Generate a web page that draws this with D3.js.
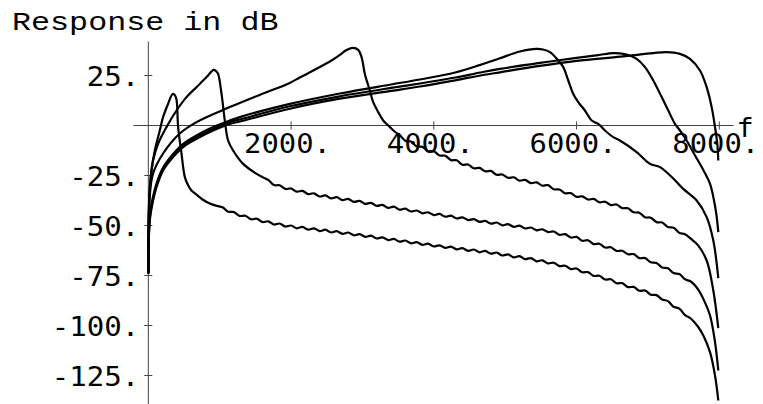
<!DOCTYPE html>
<html>
<head>
<meta charset="utf-8">
<script src="https://cdn.jsdelivr.net/npm/d3@7"></script>
<style>
  body { margin: 0; background: #fff; }
  svg { display: block; }
</style>
</head>
<body>
<svg id="chart" width="763" height="404"></svg>
<script>
// Axis ticks and labels
const xTicks = [2000, 4000, 6000, 8000];
const xTickLabels = ["2000.", "4000.", "6000.", "8000."];
const yTicks = [25, -25, -50, -75, -100, -125];
const yTickLabels = ["25.", "-25.", "-50.", "-75.", "-100.", "-125."];
const xAxisExtent = [-210, 8200];
const yAxisExtent = [-140, 42];
const xAxisName = "f";
const title = "Response in dB";

// Filter responses: [frequency, dB]
const curveA = [
  [1,-72],[11,-39],[45,-22.5],[91,-12.5],[161,-2.5],[207,4.2],[277,10.8],[325,15],[348,15.8],[372,15.2],[395,13],[418,-0.8],
  [465,-14],[512,-25.8],[560,-30],[605,-32.5],[675,-34.6],[760,-37],[862,-39],[960,-40.2],
  [1040,-40.9],[1120,-43.1],[1200,-43.3],[1280,-45.2],[1360,-45.1],[1440,-46.9],[1520,-46.6],[1600,-48.3],[1680,-47.9],[1760,-49.5],
  [1840,-49.0],[1920,-50.5],[2000,-50.0],[2080,-51.4],[2160,-50.7],[2240,-52.1],[2320,-51.4],[2400,-52.8],[2480,-52.1],[2560,-53.5],
  [2640,-52.8],[2720,-54.2],[2800,-53.5],[2880,-54.9],[2960,-54.3],[3040,-55.7],[3120,-55.1],[3200,-56.5],[3280,-55.9],[3360,-57.3],
  [3440,-56.7],[3520,-58.1],[3600,-57.5],[3680,-58.9],[3760,-58.3],[3840,-59.7],[3920,-59.1],[4000,-60.5],[4080,-59.9],[4160,-61.2],
  [4240,-60.6],[4320,-61.9],[4400,-61.3],[4480,-62.7],[4560,-62.0],[4640,-63.4],[4720,-62.7],[4800,-64.1],[4880,-63.5],[4960,-65.0],
  [5040,-64.4],[5120,-65.9],[5200,-65.3],[5280,-66.8],[5360,-66.3],[5440,-67.9],[5520,-67.4],[5600,-68.9],[5680,-68.6],[5760,-70.3],
  [5840,-70.1],[5920,-71.8],[6000,-71.5],[6080,-73.4],[6160,-73.3],[6240,-75.2],[6320,-75.1],[6400,-77.0],[6480,-76.9],[6560,-78.9],
  [6640,-78.8],[6720,-80.8],[6800,-80.7],[6880,-82.6],[6960,-82.5],[7040,-84.6],[7120,-84.8],[7200,-87.0],[7280,-87.8],[7360,-90.6],
  [7440,-91.6],[7520,-94.8],[7600,-96.5],[7700,-100.5],[7776,-105],[7870,-113.3],[7940,-125],[7986,-137.5]
];
const curveB = [
  [1,-73],[21,-30.8],[67,-17.5],[137,-9.2],[255,-0.8],[395,7.5],[535,14.2],[676,19.2],[816,24.2],[880,26.8],[915,27.8],[950,27.2],
  [978,25.8],[1026,15.8],[1072,2.5],[1118,-7.5],[1188,-12.5],[1329,-19.2],[1500,-23.8],[1600,-25.8],
  [1680,-27.2],[1760,-29.8],[1840,-29.9],[1920,-31.7],[2000,-31.5],[2080,-33.1],[2160,-32.7],[2240,-34.3],[2320,-33.9],[2400,-35.5],
  [2480,-34.9],[2560,-36.4],[2640,-35.8],[2720,-37.3],[2800,-36.7],[2880,-38.2],[2960,-37.7],[3040,-39.2],[3120,-38.7],[3200,-40.2],
  [3280,-39.7],[3360,-41.2],[3440,-40.6],[3520,-42.1],[3600,-41.6],[3680,-43.0],[3760,-42.5],[3840,-43.9],[3920,-43.4],[4000,-44.8],
  [4080,-44.2],[4160,-45.6],[4240,-45.1],[4320,-46.5],[4400,-45.9],[4480,-47.3],[4560,-46.8],[4640,-48.2],[4720,-47.7],[4800,-49.1],
  [4880,-48.5],[4960,-49.9],[5040,-49.3],[5120,-50.7],[5200,-50.1],[5280,-51.5],[5360,-51.0],[5440,-52.4],[5520,-51.9],[5600,-53.3],
  [5680,-53.0],[5760,-54.7],[5840,-54.3],[5920,-56.0],[6000,-55.7],[6080,-57.6],[6160,-57.4],[6240,-59.3],[6320,-59.1],[6400,-61.0],
  [6480,-60.9],[6560,-62.7],[6640,-62.6],[6720,-64.4],[6800,-64.3],[6880,-66.3],[6960,-66.3],[7040,-68.4],[7120,-68.7],[7200,-71.0],
  [7280,-71.4],[7360,-73.8],[7440,-74.3],[7520,-76.9],[7600,-78],[7700,-81.8],[7776,-86.7],[7870,-95],[7940,-108.3],[7986,-122.5]
];
const curveC = [
  [1,-74],[21,-35],[67,-24],[207,-14],[441,-4],[676,1.7],[1142,9.2],[1560,15.3],[1983,21.3],[2123,24],[2544,32],[2684,35.3],
  [2778,37.7],[2870,38.8],[2940,37.8],[2988,34.2],[3034,25.8],[3104,17.5],[3151,11.7],[3221,6.7],[3291,2.5],[3385,-0.8],[3450,-3],
  [3520,-4.7],[3600,-7.6],[3680,-8.0],[3760,-10.5],[3840,-10.7],[3920,-12.8],[4000,-12.9],[4080,-15.0],[4160,-15.1],[4240,-17.3],
  [4320,-17.4],[4400,-19.6],[4480,-19.5],[4560,-21.4],[4640,-21.2],[4720,-22.9],[4800,-22.7],[4880,-24.6],[4960,-24.5],[5040,-26.2],
  [5120,-25.9],[5200,-27.6],[5280,-27.2],[5360,-28.8],[5440,-28.4],[5520,-30.1],[5600,-29.8],[5680,-31.9],[5760,-32.0],[5840,-33.9],
  [5920,-33.8],[6000,-35.7],[6080,-35.4],[6160,-37.0],[6240,-36.7],[6320,-38.4],[6400,-38.1],[6480,-39.8],[6560,-39.5],[6640,-41.3],
  [6720,-41.4],[6800,-43.4],[6880,-43.6],[6960,-45.9],[7040,-46.1],[7120,-48.3],[7200,-48.5],[7280,-50.8],[7360,-51.1],[7440,-53.7],
  [7520,-54.4],[7600,-56.6],[7700,-59.8],[7823,-67.5],[7916,-82.5],[7986,-101.3]
];
const curveD = [
  [1,-74],[21,-45],[67,-35.5],[115,-29],[207,-21],[348,-14.2],[488,-9.2],[676,-5],[908,-0.8],[1142,2.5],[1282,4.2],[1983,10.8],
  [2684,16],[3400,20.5],[3805,23],[4300,26.5],[4653,30.3],[4926,33.6],[5207,37],[5441,38.3],[5530,38],[5627,36.7],[5744,32.5],
  [5814,29.2],[5884,22.5],[5954,15.8],[6024,11.7],[6117,7.5],[6212,2.5],[6304,0.8],[6398,-2.5],[6514,-5.8],[6608,-7.5],[6842,-13.3],
  [7029,-19.2],[7169,-20.8],[7355,-26.5],[7495,-31.7],[7683,-37.5],[7823,-45.8],[7916,-57.5],[7986,-76.3]
];
const curveE = [
  [1,-74],[21,-46],[67,-36.5],[115,-30],[207,-21.8],[348,-15],[488,-10],[676,-5.8],[908,-1.7],[1142,1.7],[1282,3],[1983,9.6],
  [2684,14.6],[3400,18.8],[3805,21],[4300,24],[4653,26.5],[4926,28.3],[5487,31.3],[6000,33.8],[6300,35.2],[6516,36.2],[6616,36],
  [6702,35.5],[6842,33.3],[6959,29.2],[7075,22.5],[7193,14.2],[7285,7.5],[7379,0.8],[7449,-2.5],[7543,-7.5],[7660,-15],[7753,-20.8],
  [7870,-29.2],[7926,-37.5],[7961,-45],[7986,-53.3]
];
const curveF = [
  [1,-74],[21,-47.5],[67,-37.5],[115,-30.8],[207,-22.5],[348,-15.8],[488,-10.8],[676,-6.7],[908,-2.5],[1142,0.8],[1282,2],[1983,8.4],
  [2684,13.4],[3400,17.3],[3805,19.5],[4300,22.6],[4653,25],[4926,26.6],[5487,29.8],[6000,32.3],[6616,34.4],[6900,35.6],[7075,36.2],
  [7263,36.7],[7449,35.8],[7589,33.3],[7729,27.5],[7823,19.2],[7893,9.2],[7940,-0.8],[7972,-9.2],[7986,-17.5]
];
const curves = [curveA, curveB, curveC, curveD, curveE, curveF];

const svg = d3.select("#chart");
svg.append("rect").attr("width", 763).attr("height", 404).attr("fill", "#fff");

const x = d3.scaleLinear().domain([0, 8000]).range([148.3, 719.3]);
const y = d3.scaleLinear().domain([-125, 25]).range([375.5, 75.5]);

const axisColor = "#444";
const textColor = "#000";
const tickFont = "'DejaVu Sans Mono', monospace";

// Axis lines crossing at the origin
svg.append("line")
  .attr("x1", x(xAxisExtent[0])).attr("x2", x(xAxisExtent[1]))
  .attr("y1", y(0)).attr("y2", y(0))
  .attr("stroke", axisColor).attr("stroke-width", 1);
svg.append("line")
  .attr("x1", x(0)).attr("x2", x(0))
  .attr("y1", y(yAxisExtent[0])).attr("y2", y(yAxisExtent[1]))
  .attr("stroke", axisColor).attr("stroke-width", 1);

// Tick marks straddling the axes
svg.append("g").selectAll("line").data(xTicks).join("line")
  .attr("x1", d => x(d)).attr("x2", d => x(d))
  .attr("y1", y(0) - 4).attr("y2", y(0) + 4)
  .attr("stroke", axisColor).attr("stroke-width", 1);
svg.append("g").selectAll("line").data(yTicks).join("line")
  .attr("x1", x(0) - 4).attr("x2", x(0) + 4)
  .attr("y1", d => y(d)).attr("y2", d => y(d))
  .attr("stroke", axisColor).attr("stroke-width", 1);

// Tick labels
svg.append("g").selectAll("text").data(xTicks).join("text")
  .attr("transform", d => `translate(${x(d) - 47},${y(0) + 27}) scale(1.11,1)`)
  .attr("font-family", tickFont).attr("font-size", 26).attr("fill", textColor)
  .text((d, i) => xTickLabels[i]);
svg.append("g").selectAll("text").data(yTicks).join("text")
  .attr("transform", d => `translate(${x(0) - 9},${y(d) + 10}) scale(1.12,1)`)
  .attr("text-anchor", "end")
  .attr("font-family", tickFont).attr("font-size", 26).attr("fill", textColor)
  .text((d, i) => yTickLabels[i]);

// Axis names
svg.append("text")
  .attr("transform", `translate(${x(xAxisExtent[1]) + 3},${y(0) + 11}) scale(1.1,1)`)
  .attr("font-family", tickFont).attr("font-size", 26).attr("fill", textColor)
  .text(xAxisName);
svg.append("text")
  .attr("transform", "translate(12,30) scale(1.22,1)")
  .attr("font-family", "'Liberation Mono', 'Courier New', monospace")
  .attr("font-size", 26).attr("fill", textColor)
  .text(title);

// Response curves
const line = d3.line()
  .x(d => x(d[0]))
  .y(d => y(d[1]))
  .curve(d3.curveCatmullRom.alpha(0.5));
svg.append("g").selectAll("path").data(curves).join("path")
  .attr("d", line)
  .attr("fill", "none")
  .attr("stroke", "#000")
  .attr("stroke-width", 2.2)
  .attr("stroke-linejoin", "round");
</script>
</body>
</html>
